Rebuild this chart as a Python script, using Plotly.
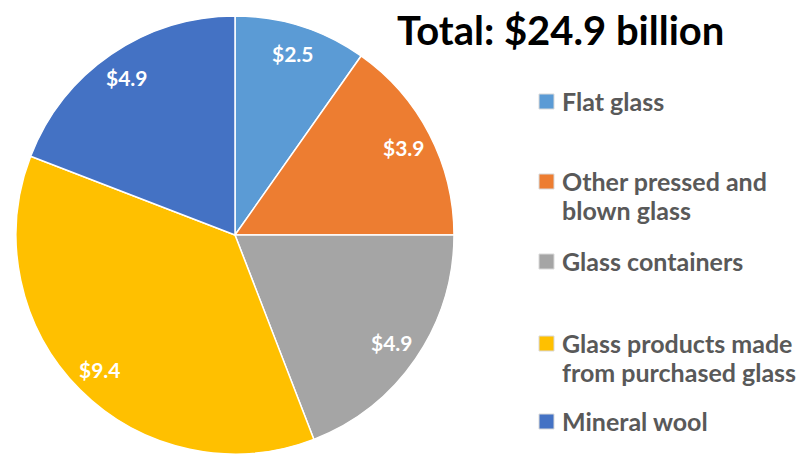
import math
import plotly.graph_objects as go

categories = ["Flat glass", "Other pressed and blown glass", "Glass containers",
              "Glass products made from purchased glass", "Mineral wool"]
legend_labels = ["Flat glass", "Other pressed and<br>blown glass", "Glass containers",
                 "Glass products made<br>from purchased glass", "Mineral wool"]
values = [2.5, 3.9, 4.9, 9.4, 4.9]
colors = ["#5B9BD5", "#ED7D31", "#A5A5A5", "#FFC000", "#4472C4"]
title_text = "Total: $24.9 billion"

W, H = 802, 454
cx, cy, R = 235, 235, 219  # pie centre / radius in pixels

fig = go.Figure(go.Pie(
    labels=categories, values=values, sort=False, direction="clockwise",
    marker=dict(colors=colors, line=dict(color="white", width=1.5)),
    textinfo="none", hoverinfo="label+value", showlegend=False,
    domain=dict(x=[(cx - R) / W, (cx + R) / W], y=[(H - cy - R) / H, (H - cy + R) / H]),
))

ann = []
# data labels placed along each slice's mid-angle
total = sum(values)
cum = 0.0
for v in values:
    mid = (cum + v / 2) / total * 2 * math.pi
    cum += v
    px = cx + 0.87 * R * math.sin(mid)
    py = cy - 0.87 * R * math.cos(mid)
    ann.append(dict(x=px / W, y=1 - py / H, xref="paper", yref="paper",
                    xanchor="center", yanchor="middle",
                    text=f"<b>${v:.1f}</b>", showarrow=False,
                    font=dict(family="Lato", size=21, color="white")))

# title
ann.append(dict(x=560 / W, y=1 - 30 / H, xref="paper", yref="paper",
                xanchor="center", yanchor="middle", text="<b>" + title_text + "</b>",
                showarrow=False, font=dict(family="Lato", size=40, color="black")))

# custom legend
slot_y = [101, 181, 261, 343, 421]   # centre of first text line for each entry
line_gap = 29
shapes = []
for lab, col, y in zip(legend_labels, colors, slot_y):
    shapes.append(dict(type="rect", xref="paper", yref="paper",
                       x0=539 / W, x1=554 / W, y0=1 - (y + 8) / H, y1=1 - (y - 7) / H,
                       fillcolor=col, line=dict(color="#D9D9D9", width=1)))
    for i, line in enumerate(lab.split("<br>")):
        ly = y + i * line_gap
        ann.append(dict(x=560 / W, y=1 - ly / H, xref="paper", yref="paper",
                        xanchor="left", yanchor="middle", align="left",
                        text="<b>" + line + "</b>", showarrow=False,
                        font=dict(family="Lato", size=25, color="#595959")))

fig.update_layout(
    width=W, height=H, margin=dict(l=0, r=0, t=0, b=0),
    paper_bgcolor="white", plot_bgcolor="white",
    annotations=ann, shapes=shapes,
)
fig.write_html("out.html", config={"displayModeBar": False},
               post_script="document.body.style.margin='0';")
